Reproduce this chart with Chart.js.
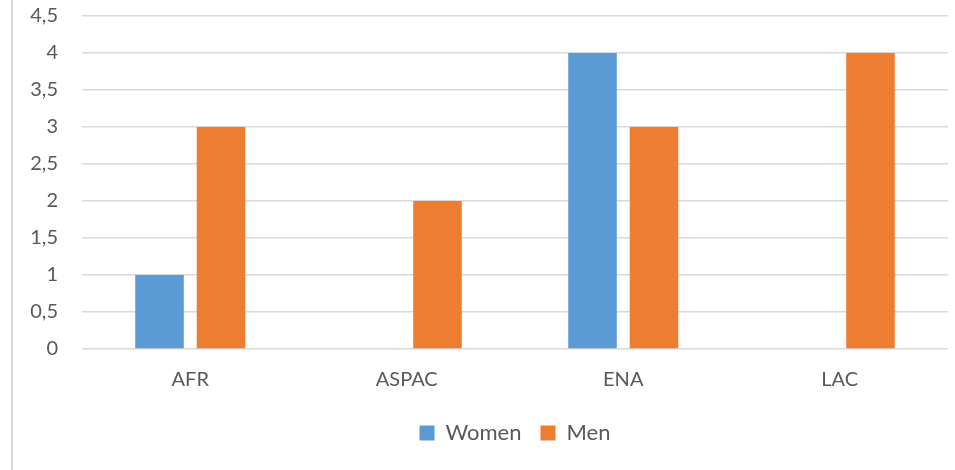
<!DOCTYPE html>
<html>
<head>
<meta charset="utf-8">
<script src="https://cdn.jsdelivr.net/npm/chart.js@4"></script>
<style>
  html, body { margin: 0; padding: 0; background: #fff; }
  #wrap { width: 955px; height: 470px; position: relative; }
</style>
</head>
<body>
<div id="wrap"><canvas id="chart"></canvas></div>
<script>
const regions = ['AFR', 'ASPAC', 'ENA', 'LAC'];
const women = [1, 0, 4, 0];
const men = [3, 2, 3, 4];

// thin grey frame line on the left edge, like the original picture
const leftFrame = {
    id: 'leftFrame',
    afterDraw(chart) {
        const ctx = chart.ctx;
        ctx.save();
        ctx.strokeStyle = '#d9d9d9';
        ctx.lineWidth = 2;
        ctx.beginPath();
        ctx.moveTo(12, 0);
        ctx.lineTo(12, chart.height);
        ctx.stroke();
        ctx.restore();
    }
};

new Chart(document.getElementById('chart'), {
    type: 'bar',
    data: {
        labels: regions,
        datasets: [
            { label: 'Women', data: women, backgroundColor: '#5b9bd5', borderWidth: 0 },
            { label: 'Men', data: men, backgroundColor: '#ed7d31', borderWidth: 0 }
        ]
    },
    options: {
        responsive: true,
        maintainAspectRatio: false,
        animation: false,
        categoryPercentage: 0.568,
        barPercentage: 0.79,
        layout: { padding: { left: 0, right: 7, top: 16, bottom: 16 } },
        plugins: {
            legend: {
                position: 'bottom',
                fullSize: false,
                labels: {
                    boxWidth: 15,
                    boxHeight: 15,
                    padding: 19,
                    color: '#595959',
                    font: { family: 'Lato', size: 22 }
                }
            },
            tooltip: { enabled: false }
        },
        scales: {
            x: {
                grid: { display: false, drawTicks: false },
                border: { display: false },
                afterFit: function (scale) { scale.height = 54; },
                ticks: {
                    color: '#595959',
                    padding: 19,
                    font: { family: 'Lato', size: 20 }
                }
            },
            y: {
                min: 0,
                max: 4.5,
                afterFit: function (scale) {
                    scale.width = 82;
                    scale.paddingTop = 0;
                    scale.paddingBottom = 0;
                },
                grid: { color: '#d9d9d9', lineWidth: 1.5, drawTicks: false },
                border: { display: false },
                ticks: {
                    stepSize: 0.5,
                    padding: 24,
                    color: '#595959',
                    font: { family: 'Lato', size: 20 },
                    callback: v => String(v).replace('.', ',')
                }
            }
        }
    },
    plugins: [leftFrame]
});
</script>
</body>
</html>
